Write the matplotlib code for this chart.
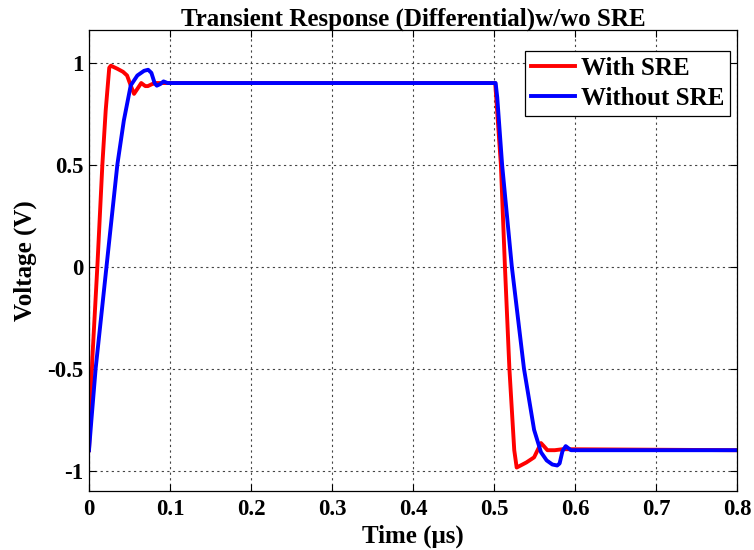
import matplotlib
matplotlib.use("Agg")
import matplotlib.pyplot as plt

# With SRE (red)
t_with = [0, 0.004, 0.0103, 0.0165, 0.0206, 0.025, 0.027, 0.035, 0.042, 0.047, 0.0515,
          0.0556, 0.0595, 0.0645, 0.0695, 0.0727, 0.078, 0.083, 0.09, 0.1,
          0.5015, 0.505, 0.5085, 0.5135, 0.519, 0.525, 0.528, 0.54, 0.5495, 0.555,
          0.558, 0.5615, 0.566, 0.575, 0.585, 0.8]
v_with = [-0.9, -0.46, 0.0, 0.5, 0.765, 0.975, 0.985, 0.97, 0.955, 0.937, 0.888,
          0.847, 0.87, 0.9, 0.885, 0.885, 0.895, 0.9, 0.9, 0.9,
          0.9, 0.7, 0.5, 0.0, -0.5, -0.9, -0.985, -0.96, -0.935, -0.89,
          -0.865, -0.88, -0.9, -0.9, -0.895, -0.9]

# Without SRE (blue)
t_without = [0, 0.003, 0.0082, 0.0216, 0.035, 0.043, 0.0515, 0.0597, 0.068, 0.073,
             0.077, 0.081, 0.0837, 0.088, 0.092, 0.097, 0.1,
             0.502, 0.504, 0.51, 0.522, 0.537, 0.5495, 0.558, 0.565, 0.572, 0.578,
             0.581, 0.5845, 0.5885, 0.595, 0.6, 0.8]
v_without = [-0.9, -0.75, -0.5, 0.0, 0.5, 0.716, 0.888, 0.937, 0.96, 0.965,
             0.95, 0.9, 0.887, 0.895, 0.908, 0.9, 0.9,
             0.9, 0.83, 0.5, 0.0, -0.5, -0.8, -0.91, -0.95, -0.97, -0.975,
             -0.965, -0.905, -0.88, -0.9, -0.9, -0.9]

x_ticks = [0, 0.1, 0.2, 0.3, 0.4, 0.5, 0.6, 0.7, 0.8]
x_tick_labels = ["0", "0.1", "0.2", "0.3", "0.4", "0.5", "0.6", "0.7", "0.8"]
y_ticks = [-1, -0.5, 0, 0.5, 1]
y_tick_labels = ["-1", "-0.5", "0", "0.5", "1"]

plt.rcParams['font.family'] = ['Liberation Serif', 'DejaVu Serif']
plt.rcParams['font.weight'] = 'bold'

fig = plt.figure(figsize=(7.54, 5.5), dpi=100)
ax = fig.add_axes([89/754, 1 - 491/550, (737-89)/754, (491-30)/550])

ax.plot(t_with, v_with, color='#ff0000', lw=2.8, label='With SRE')
ax.plot(t_without, v_without, color='#0000ff', lw=2.8, label='Without SRE')

ax.set_xlim(0, 0.8)
ax.set_ylim(-1.1, 1.16)
ax.set_xticks(x_ticks)
ax.set_xticklabels(x_tick_labels)
ax.set_yticks(y_ticks)
ax.set_yticklabels(y_tick_labels)
ax.tick_params(direction='in', length=5, width=0.8, top=True, right=True,
               labelsize=16.5)
ax.tick_params(axis='x', pad=6)
ax.tick_params(axis='y', pad=4)
for lab in ax.get_xticklabels() + ax.get_yticklabels():
    lab.set_fontweight('bold')
ax.grid(True, color='#444444', linestyle=(0, (2, 3)), linewidth=0.8)
for s in ax.spines.values():
    s.set_linewidth(0.9)

ax.set_xlabel('Time (\u03bcs)', fontsize=18, fontweight='bold', labelpad=3)
ax.set_ylabel('Voltage (V)', fontsize=18, fontweight='bold', labelpad=7)
ax.set_title('Transient Response (Differential)w/wo SRE', fontsize=18,
             fontweight='bold', pad=3)

leg = ax.legend(loc='upper right', bbox_to_anchor=(0.989, 0.954), borderaxespad=0,
                fancybox=False, framealpha=1, edgecolor='black',
                prop={'size': 18, 'weight': 'bold'}, handlelength=1.75,
                borderpad=0.22, labelspacing=0.3, handletextpad=0.25)
leg.get_frame().set_linewidth(0.9)

fig.savefig('out.png', dpi=100)
